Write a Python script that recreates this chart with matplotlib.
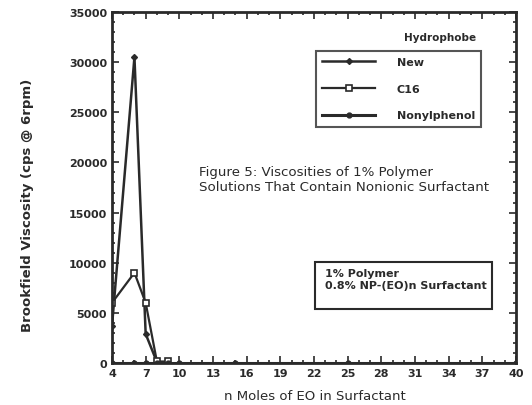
import matplotlib
matplotlib.use("Agg")
import matplotlib.pyplot as plt
from matplotlib.patches import Rectangle
from matplotlib.ticker import MultipleLocator

# data
new_x = [4, 6, 7, 8]
new_y = [3700, 30500, 2900, 100]
c16_x = [4, 6, 7, 8, 9]
c16_y = [6000, 9000, 6000, 150, 150]
nonyl_x = [4, 6, 7, 8, 9, 10, 15, 25, 40]
nonyl_y = [0, 0, 0, 0, 0, 0, 0, 0, 0]
xticks = [4, 7, 10, 13, 16, 19, 22, 25, 28, 31, 34, 37, 40]
yticks = [0, 5000, 10000, 15000, 20000, 25000, 30000, 35000]

W, H = 532, 406
fig = plt.figure(figsize=(W / 100, H / 100), dpi=100)
ax = fig.add_axes([112 / W, 1 - 364 / H, (516 - 112) / W, (364 - 13) / H])

ink = "#2a2a2a"
ax.plot(new_x, new_y, color=ink, lw=1.8, marker="D", ms=3, mfc=ink, label="New")
ax.plot(c16_x, c16_y, color=ink, lw=1.6, marker="s", ms=4, mfc="white", mew=1.2, label="C16")
ax.plot(nonyl_x, nonyl_y, color=ink, lw=2.2, marker="o", ms=3.5, mfc=ink, label="Nonylphenol")

ax.set_xlim(4, 40)
ax.set_ylim(0, 35000)
ax.set_xticks(xticks)
ax.set_yticks(yticks)
ax.xaxis.set_minor_locator(MultipleLocator(1))
ax.yaxis.set_minor_locator(MultipleLocator(1000))
ax.tick_params(which="both", direction="in", top=True, right=True, color=ink, width=1.2)
ax.tick_params(which="major", length=5, labelsize=8, colors=ink)
ax.tick_params(which="minor", length=2.5)
for lab in ax.get_xticklabels() + ax.get_yticklabels():
    lab.set_fontweight("bold")
for s in ax.spines.values():
    s.set_linewidth(2)
    s.set_color(ink)

fig.text(28 / W, 1 - 205 / H, "Brookfield Viscosity (cps @ 6rpm)", rotation=90,
         ha="center", va="center", fontsize=9.5, fontweight="bold", color=ink)
fig.text(315 / W, 1 - 397 / H, "n Moles of EO in Surfactant", ha="center", va="center",
         fontsize=9.5, color=ink)

fig.text(199 / W, 1 - 180 / H,
         "Figure 5: Viscosities of 1% Polymer\nSolutions That Contain Nonionic Surfactant",
         ha="left", va="center", fontsize=9.6, color=ink, linespacing=1.2)

fig.text(440 / W, 1 - 38 / H, "Hydrophobe", ha="center", va="center",
         fontsize=7.5, fontweight="bold", color=ink)
leg = ax.legend(loc="upper left", bbox_to_anchor=(316 / W, 1 - 52 / H),
                bbox_transform=fig.transFigure, frameon=True, fancybox=False,
                edgecolor=ink, handlelength=4.8, handletextpad=1.9, labelspacing=1.5,
                borderpad=0.55, prop={"size": 8, "weight": "bold"}, borderaxespad=0)
leg.get_frame().set_linewidth(1.5)
for t in leg.get_texts():
    t.set_color(ink)

fig.patches.append(Rectangle((315 / W, 1 - 310 / H), (492 - 315) / W, (310 - 263) / H,
                             transform=fig.transFigure, fill=False, ec=ink, lw=1.5))
fig.text(325 / W, 1 - 280 / H, "1% Polymer\n0.8% NP-(EO)n Surfactant", ha="left", va="center",
         fontsize=8, fontweight="bold", color=ink, linespacing=1.25)

fig.savefig("out.png", dpi=100)
